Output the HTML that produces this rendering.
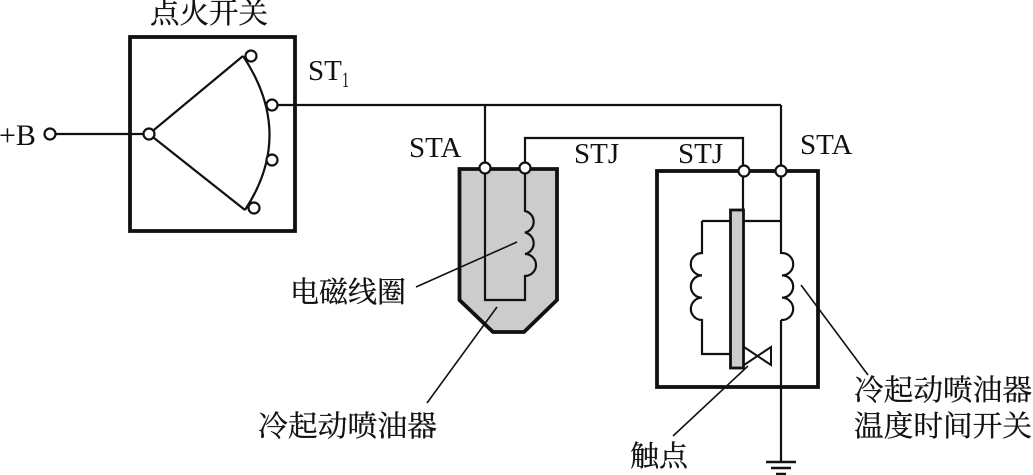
<!DOCTYPE html>
<html><head><meta charset="utf-8">
<style>html,body{margin:0;padding:0;background:#fff}svg{display:block}
text{font-family:"Liberation Serif","Noto Serif CJK SC",serif;fill:#111}
.c{stroke:#111;stroke-width:.3}</style></head>
<body>
<svg width="1033" height="475" viewBox="0 0 1033 475" xmlns="http://www.w3.org/2000/svg">
<g fill="none" stroke="#111">
<rect x="130" y="37" width="165" height="194" stroke-width="3.800"/>
<path d="M50 134H149M272 105H781M485 105V168M525 168V138H743V171M781 105V462M149 134L243 56M149 134L245 210" stroke-width="2.200"/>
<path d="M243 56Q295 134 245 210" stroke-width="2.200"/>
<path d="M459.500 169H557V300L524 332H493L459.500 300Z" fill="#cccccc" stroke-width="3.800"/>
<path d="M485 168V300H525V276a11 11 0 0 0 0-22a11 11 0 0 0 0-21.500a11 11 0 0 0 0-21.500V168" stroke-width="2.200"/>
<rect x="657" y="171" width="161" height="216" stroke-width="3.800"/>
<path d="M743 171V210M702 221H781M730 354H702V320a11 11 0 0 1 0-22.300a11 11 0 0 1 0-22.300a11 11 0 0 1 0-22.400V221" stroke-width="2.200"/>
<rect x="730.500" y="210" width="13" height="158" fill="#cccccc" stroke-width="2.800"/>
<path d="M781 254V320" stroke="#fff" stroke-width="3.200"/>
<path d="M781 320h1a11 11 0 0 0 0-22.300a11 11 0 0 0 0-22.300a11 11 0 0 0 0-22.400h-1" stroke-width="2.200"/>
<path d="M744 347L771 365V347L744 365" stroke-width="2"/>
<path d="M766 462H796M771 468H791M776 474H786" stroke-width="2.500"/>
<path d="M416 287L517 242M427 403L497 307M748 366L673 436M868 375L801 285" stroke-width="1.600"/>
</g>
<g fill="#fff" stroke="#111" stroke-width="2.200">
<circle cx="50" cy="134" r="5.500"/><circle cx="149" cy="134" r="5.500"/>
<circle cx="251" cy="56" r="5.500"/><circle cx="272" cy="105" r="5.500"/>
<circle cx="272" cy="160" r="5.500"/><circle cx="254" cy="208" r="5.500"/>
<circle cx="485" cy="168" r="5.500"/><circle cx="525" cy="168" r="5.500"/>
<circle cx="744" cy="171" r="5.500"/><circle cx="781" cy="171" r="5.500"/>
</g>
<g font-size="29">
<text class="c" x="150" y="23" textLength="118" lengthAdjust="spacingAndGlyphs">点火开关</text>
<text x="-1" y="145" font-size="30">+B</text>
<text x="308" y="80">ST</text><text x="342" y="87" font-size="22" textLength="7" lengthAdjust="spacingAndGlyphs">1</text>
<text x="409" y="157">STA</text>
<text x="574" y="163">STJ</text>
<text x="678" y="163">STJ</text>
<text x="800" y="154">STA</text>
<text class="c" x="290" y="302" textLength="116" lengthAdjust="spacingAndGlyphs">电磁线圈</text>
<text class="c" x="258" y="436" textLength="179" lengthAdjust="spacingAndGlyphs">冷起动喷油器</text>
<text class="c" x="630" y="466" textLength="58" lengthAdjust="spacingAndGlyphs">触点</text>
<text class="c" x="854" y="400" textLength="178" lengthAdjust="spacingAndGlyphs">冷起动喷油器</text>
<text class="c" x="854" y="436" textLength="178" lengthAdjust="spacingAndGlyphs">温度时间开关</text>
</g>
</svg>
</body></html>
